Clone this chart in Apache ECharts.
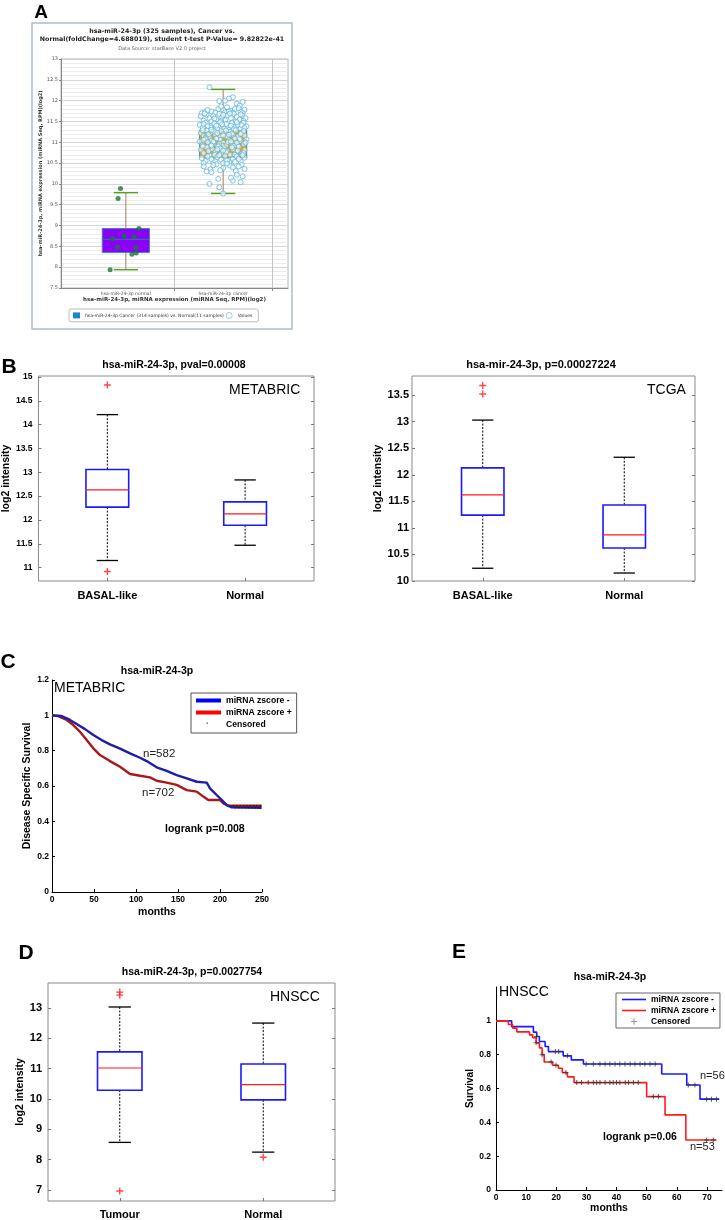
<!DOCTYPE html>
<html><head><meta charset="utf-8">
<script src="https://cdn.jsdelivr.net/npm/echarts@6/dist/echarts.min.js"></script>
<style>html,body{margin:0;padding:0;background:#fff}#c{width:725px;height:1220px}</style>
</head><body><div id="c"></div><script>
// ---------------- DATA ----------------
// Panel A (starBase)
const aCategories = ['hsa-miR-24-3p normal', 'hsa-miR-24-3p cancer'];
const aBoxNormal = [7.94, 8.35, 8.67, 8.93, 9.79];   // min, q1, median, q3, max
const aBoxCancer = [9.77, 10.63, 10.97, 11.29, 12.27];
const aNormalPoints = [[-0.055,9.89],[-0.08,9.65],[0.134,8.93],[-0.017,8.75],[0.086,8.73],[-0.137,8.68],[-0.086,8.48],[0.103,8.48],[0.106,8.34],[0.062,8.31],[-0.162,7.94]];
const aCancerPoints = [
 [-0.14,12.32],[0.10,12.08],[0.06,12.05],[0.02,12.0],[0.2,11.97],[-0.04,11.99],[0.14,11.93],[0.17,11.88],
 [-0.19,11.72],[-0.12,11.74],[-0.05,11.8],[0.0,11.78],[0.04,11.84],[0.08,11.76],[0.12,11.8],[0.18,11.74],[0.22,11.78],[-0.22,11.7],[-0.08,11.71],[0.02,11.72],[0.16,11.82],[-0.16,11.77],[0.1,11.71],[-0.02,11.86],[0.06,11.74],[0.2,11.7],
 [-0.23,11.62],[-0.2,11.52],[-0.17,11.66],[-0.14,11.58],[-0.1,11.63],[-0.07,11.55],[-0.04,11.68],[-0.01,11.6],[0.02,11.53],[0.05,11.65],[0.08,11.58],[0.11,11.68],[0.14,11.61],[0.17,11.55],[0.2,11.64],[0.23,11.58],[-0.19,11.69],[-0.12,11.5],[-0.02,11.51],[0.07,11.69],[0.13,11.5],[0.21,11.51],[-0.09,11.57],[0.0,11.66],[0.18,11.67],
 [-0.24,11.42],[-0.21,11.35],[-0.18,11.47],[-0.15,11.31],[-0.12,11.4],[-0.09,11.45],[-0.06,11.33],[-0.03,11.48],[0.0,11.38],[0.03,11.44],[0.06,11.3],[0.09,11.46],[0.12,11.36],[0.15,11.42],[0.18,11.33],[0.21,11.47],[0.24,11.38],[-0.2,11.44],[-0.13,11.36],[-0.07,11.4],[0.01,11.32],[0.08,11.4],[0.14,11.48],[0.19,11.41],[-0.16,11.39],[-0.01,11.43],[0.11,11.31],[0.22,11.34],
 [-0.23,11.22],[-0.2,11.15],[-0.17,11.28],[-0.14,11.12],[-0.11,11.24],[-0.08,11.18],[-0.05,11.1],[-0.02,11.27],[0.01,11.2],[0.04,11.13],[0.07,11.25],[0.1,11.17],[0.13,11.29],[0.16,11.11],[0.19,11.23],[0.22,11.16],[-0.21,11.29],[-0.15,11.19],[-0.09,11.26],[-0.03,11.14],[0.03,11.28],[0.09,11.21],[0.15,11.14],[0.21,11.27],[-0.18,11.11],[-0.06,11.22],[0.06,11.18],[0.18,11.2],[-0.12,11.3],[0.0,11.16],
 [-0.24,11.02],[-0.21,10.95],[-0.18,11.08],[-0.15,10.92],[-0.12,11.04],[-0.09,10.98],[-0.06,10.91],[-0.03,11.06],[0.0,10.99],[0.03,10.93],[0.06,11.05],[0.09,10.97],[0.12,11.09],[0.15,10.94],[0.18,11.03],[0.21,10.96],[0.24,11.07],[-0.2,11.06],[-0.13,10.95],[-0.07,11.09],[-0.01,10.92],[0.05,11.0],[0.11,10.91],[0.17,11.08],[0.23,10.99],[-0.16,11.0],[-0.04,10.96],[0.08,11.02],[0.14,10.99],[-0.1,11.01],
 [-0.23,10.82],[-0.2,10.74],[-0.17,10.88],[-0.14,10.71],[-0.11,10.84],[-0.08,10.77],[-0.05,10.9],[-0.02,10.73],[0.01,10.86],[0.04,10.79],[0.07,10.7],[0.1,10.83],[0.13,10.75],[0.16,10.89],[0.19,10.72],[0.22,10.81],[-0.21,10.9],[-0.15,10.79],[-0.09,10.7],[-0.03,10.85],[0.03,10.76],[0.09,10.88],[0.15,10.8],[0.21,10.74],[-0.12,10.92],[0.0,10.8],[0.12,10.7],[-0.06,10.83],
 [-0.22,10.62],[-0.18,10.55],[-0.14,10.68],[-0.1,10.51],[-0.06,10.64],[-0.02,10.58],[0.02,10.67],[0.06,10.52],[0.1,10.6],[0.14,10.66],[0.18,10.54],[0.22,10.63],[-0.2,10.5],[-0.12,10.6],[-0.04,10.69],[0.04,10.56],[0.12,10.53],[0.2,10.69],[-0.16,10.66],[0.0,10.5],[0.16,10.6],[-0.08,10.54],
 [-0.2,10.42],[-0.13,10.35],[-0.07,10.47],[0.0,10.38],[0.07,10.44],[0.13,10.31],[0.19,10.46],[-0.17,10.3],[-0.03,10.33],[0.1,10.4],[0.22,10.36],[-0.1,10.45],[0.04,10.49],[0.16,10.42],
 [-0.12,10.28],[0.14,10.22],[0.2,10.18],[-0.05,10.12],[0.1,10.08],[-0.14,10.0],[0.18,10.04],[-0.04,9.92],[0.0,9.77],[0.08,10.15]
];
// Panel B (METABRIC, TCGA)
const bCategories = ['BASAL-like', 'Normal'];
const bMetabricBoxes = [[11.15, 12.27, 12.63, 13.06, 14.21], [11.47, 11.89, 12.13, 12.38, 12.84]];
const bMetabricOutliers = [[1, 14.83], [1, 10.92]];
const bMetabricTicks = [11, 11.5, 12, 12.5, 13, 13.5, 14, 14.5, 15];
const bTcgaBoxes = [[10.24, 11.24, 11.62, 12.13, 13.03], [10.15, 10.62, 10.87, 11.43, 12.33]];
const bTcgaOutliers = [[1, 13.68], [1, 13.52]];
const bTcgaTicks = [10, 10.5, 11, 11.5, 12, 12.5, 13, 13.5];
// Panel C (METABRIC survival)
const cBlue = [[0,1],[11.5,0.996],[21.4,0.974],[29.4,0.951],[39.3,0.922],[49.2,0.889],[59.1,0.86],[69,0.836],[81,0.812],[92.9,0.785],[104.8,0.76],[112.7,0.741],[124.6,0.706],[136.5,0.685],[148.4,0.662],[160.4,0.643],[172.3,0.624],[184.2,0.619],[188.1,0.587],[196,0.549],[202,0.521],[208,0.492],[214,0.479],[249.6,0.477]];
const cRed = [[0,1],[7.5,0.996],[17.5,0.974],[25.4,0.945],[33.3,0.907],[41.3,0.86],[49.2,0.813],[57.1,0.775],[69,0.741],[81,0.709],[92.9,0.668],[104.8,0.658],[116.7,0.649],[124.6,0.63],[136.5,0.619],[148.4,0.606],[160.4,0.577],[172.3,0.568],[180.2,0.54],[186.1,0.521],[200,0.521],[204,0.502],[210,0.488],[249.6,0.488]];
const cCensored = [[218,0.477],[222,0.477],[226,0.477],[230,0.477],[234,0.477],[238,0.477],[242,0.477],[246,0.477],[216,0.488],[220,0.488],[224,0.488],[228,0.488],[232,0.488],[236,0.488],[240,0.488],[244,0.488],[248,0.488]];
const cXTicks = [0, 50, 100, 150, 200, 250];
// Panel D (HNSCC box)
const dCategories = ['Tumour', 'Normal'];
const dBoxes = [[8.57, 10.29, 11.02, 11.55, 13.03], [8.25, 9.97, 10.47, 11.15, 12.5]];
const dOutliers = [[1, 13.52], [1, 13.42], [1, 6.97], [2, 8.08]];
const dTicks = [7, 8, 9, 10, 11, 12, 13];
// Panel E (HNSCC survival)
const eBlue = [[0,1],[5.2,0.966],[12.4,0.933],[13.5,0.907],[14.4,0.878],[16.3,0.848],[17.4,0.818],[22.3,0.793],[25,0.769],[29,0.745],[55,0.686],[63.3,0.621],[67.7,0.537],[74.1,0.537]];
const eRed = [[0,1],[4.1,0.978],[5.5,0.957],[6.9,0.935],[11.1,0.917],[12.2,0.9],[13.3,0.87],[14.4,0.84],[15.3,0.8],[16,0.757],[18.8,0.737],[20.7,0.72],[22,0.694],[23.7,0.669],[25.9,0.635],[50,0.552],[56.1,0.444],[63,0.296],[73.2,0.296]];
const eCensored = [[13.5,0.907],[19.7,0.818],[20.8,0.818],[23.7,0.793],[29.9,0.745],[32.3,0.745],[34.5,0.745],[36.2,0.745],[37.8,0.745],[39.5,0.745],[41.1,0.745],[42.8,0.745],[44.5,0.745],[46.1,0.745],[47.8,0.745],[49.4,0.745],[51.1,0.745],[52.8,0.745],[63.8,0.621],[66,0.621],[69.9,0.537],[71.5,0.537],[73.2,0.537],
 [13.3,0.87],[15.3,0.8],[18.3,0.757],[19.9,0.737],[23.2,0.694],[26.8,0.635],[28.4,0.635],[30.6,0.635],[32.3,0.635],[33.4,0.635],[34.5,0.635],[36.2,0.635],[37.8,0.635],[38.9,0.635],[40,0.635],[41.1,0.635],[42.9,0.635],[44,0.635],[45.6,0.635],[47.2,0.635],[52.2,0.552],[53.9,0.552],[69.9,0.296],[72.1,0.296]];
const eXTicks = [0, 10, 20, 30, 40, 50, 60, 70];
const survTicks = [0, 0.2, 0.4, 0.6, 0.8, 1];

// ---------------- BUILD ----------------
const FONT = '"Liberation Sans", Arial, sans-serif';
const DV = '"DejaVu Sans", sans-serif';
const PLUS = 'path://M4,0h2v4h4v2h-4v4h-2v-4h-4v-2h4z';
const THINLINE = 'path://M0,0h24v1.6h-24z';
const grids = [], xAxes = [], yAxes = [], series = [], graphics = [], legends = [];

function boxRender(st) {
  return function (params, api) {
    const x = api.value(0);
    const lo = api.coord([x, api.value(1)]), q1 = api.coord([x, api.value(2)]);
    const md = api.coord([x, api.value(3)]), q3 = api.coord([x, api.value(4)]);
    const hi = api.coord([x, api.value(5)]);
    const bw = api.size([st.bw, 0])[0], cw = api.size([st.cw, 0])[0];
    const cx = md[0];
    const ws = {stroke: st.whisker, lineWidth: st.wW, lineDash: st.dash || null};
    const cs = {stroke: st.cap, lineWidth: st.cW};
    return {type: 'group', children: [
      {type: 'line', shape: {x1: cx, y1: hi[1], x2: cx, y2: q3[1]}, style: ws},
      {type: 'line', shape: {x1: cx, y1: q1[1], x2: cx, y2: lo[1]}, style: ws},
      {type: 'line', shape: {x1: cx - cw / 2, y1: hi[1], x2: cx + cw / 2, y2: hi[1]}, style: cs},
      {type: 'line', shape: {x1: cx - cw / 2, y1: lo[1], x2: cx + cw / 2, y2: lo[1]}, style: cs},
      {type: 'rect', shape: {x: cx - bw / 2, y: q3[1], width: bw, height: q1[1] - q3[1]}, style: {fill: st.fill, stroke: st.stroke, lineWidth: st.sW}},
      {type: 'line', shape: {x1: cx - bw / 2, y1: md[1], x2: cx + bw / 2, y2: md[1]}, style: {stroke: st.med, lineWidth: st.mW}}
    ]};
  };
}

function txt(text, x, y, size, weight, align, family, color) {
  graphics.push({type: 'text', x: x, y: y, z: 100, silent: true, style: {
    text: text, fontSize: size, fontWeight: weight || 'normal', fontFamily: family || FONT,
    fill: color || '#000', align: align || 'center', textAlign: align || 'center',
    verticalAlign: 'middle', textVerticalAlign: 'middle'}});
}

// ---- Panel A ----
const A_LEG = 'hsa-miR-24-3p Cancer (314 samples) vs. Normal(11 samples)';
{
  const gi = grids.push({left: 61, top: 59, width: 227, height: 229, show: true, borderColor: '#b4b4b4', borderWidth: 1, backgroundColor: '#fff'}) - 1;
  const xi = xAxes.push({type: 'value', gridIndex: gi, min: 1 / 3, max: 8 / 3,
    name: 'hsa-miR-24-3p, miRNA expression (miRNA Seq, RPM)(log2)', nameLocation: 'middle', nameGap: 9,
    nameTextStyle: {fontFamily: DV, fontWeight: 'bold', fontSize: 5.5, color: '#333'},
    axisLine: {show: true, lineStyle: {color: '#888'}}, splitLine: {show: false},
    axisTick: {show: true, length: 3, customValues: [1.5, 2.5], lineStyle: {color: '#888'}},
    axisLabel: {customValues: [1, 2], formatter: v => aCategories[Math.round(v) - 1], fontFamily: DV, fontSize: 4.5, color: '#555', margin: 3}}) - 1;
  const yi = yAxes.push({type: 'value', gridIndex: gi, min: 7.5, max: 13, interval: 0.5,
    name: 'hsa-miR-24-3p, miRNA expression (miRNA Seq, RPM)(log2)', nameLocation: 'middle', nameGap: 16,
    nameTextStyle: {fontFamily: DV, fontWeight: 'bold', fontSize: 5, color: '#333'},
    axisLine: {show: true, lineStyle: {color: '#888'}},
    axisTick: {show: true, length: 2, lineStyle: {color: '#888'}},
    axisLabel: {fontFamily: DV, fontSize: 5, color: '#555', margin: 3},
    splitLine: {show: true, lineStyle: {color: '#cdcdcd', width: 0.8}},
    minorTick: {show: false, splitNumber: 5},
    minorSplitLine: {show: true, lineStyle: {color: '#e8e8e8', width: 0.8}}}) - 1;
  series.push({type: 'custom', name: A_LEG, xAxisIndex: xi, yAxisIndex: yi, silent: true, z: 2,
    data: [[1].concat(aBoxNormal)], encode: {x: 0, y: [1, 2, 3, 4, 5]},
    renderItem: boxRender({bw: 0.485, cw: 0.25, whisker: '#b07a5a', wW: 1, cap: '#5a9e2a', cW: 1.5, fill: '#8b00f7', stroke: '#3d86b8', sW: 1, med: '#2f6f9f', mW: 1.2}),
    markLine: {silent: true, symbol: 'none', label: {show: false}, lineStyle: {color: '#c4c4c4', type: 'solid', width: 1}, data: [{xAxis: 1.5}, {xAxis: 2.5}]}});
  series.push({type: 'custom', name: A_LEG, xAxisIndex: xi, yAxisIndex: yi, silent: true, z: 2,
    data: [[2].concat(aBoxCancer)], encode: {x: 0, y: [1, 2, 3, 4, 5]},
    renderItem: boxRender({bw: 0.485, cw: 0.25, whisker: '#b07a5a', wW: 1, cap: '#5a9e2a', cW: 1.5, fill: '#f7a30c', stroke: '#4d8fa3', sW: 1, med: '#456b74', mW: 1.2})});
  series.push({type: 'scatter', name: 'Values', xAxisIndex: xi, yAxisIndex: yi, silent: true, z: 3,
    data: aNormalPoints.map(p => [1 + p[0], p[1]]), symbol: 'circle', symbolSize: 5, itemStyle: {color: '#17783c'}});
  series.push({type: 'scatter', name: 'Values', xAxisIndex: xi, yAxisIndex: yi, silent: true, z: 3,
    data: aCancerPoints.map(p => [2 + p[0], p[1]]), symbol: 'circle', symbolSize: 5,
    itemStyle: {color: 'rgba(255,255,255,0.8)', borderColor: '#5fb5d9', borderWidth: 1}});
  legends.push({left: 69, top: 309, orient: 'horizontal', itemGap: 2, itemWidth: 7, itemHeight: 6,
    padding: [3, 6, 3, 4], borderColor: '#bbb', borderWidth: 1, borderRadius: 2, selectedMode: false,
    textStyle: {fontFamily: DV, fontSize: 4.5, color: '#333'},
    data: [{name: A_LEG, icon: 'rect', itemStyle: {color: '#1b87cc'}},
           {name: 'Values', icon: 'circle', itemStyle: {color: '#fff', borderColor: '#5ab4d8', borderWidth: 0.8}}]});
  graphics.push({type: 'rect', z: 0, silent: true, shape: {x: 32, y: 23, width: 260, height: 306}, style: {fill: 'none', stroke: '#a9bcd3', lineWidth: 1.5}});
  txt('A', 41, 13, 19, 'bold');
  txt('hsa-miR-24-3p (325 samples), Cancer vs.', 162, 31, 6.3, 'bold', 'center', DV, '#222');
  txt('Normal(foldChange=4.688019), student t-test P-Value= 9.82822e-41', 162, 39, 6.3, 'bold', 'center', DV, '#222');
  txt('Data Source: starBase V2.0 project', 162, 49, 5, 'normal', 'center', DV, '#666');
}

// ---- MATLAB box panels ----
function mPanel(p) {
  const gi = grids.push({left: p.left, top: p.top, width: p.width, height: p.height, show: true, borderColor: '#8a8a8a', borderWidth: 1, backgroundColor: '#fff'}) - 1;
  const xi = xAxes.push({type: 'value', gridIndex: gi, min: 0.5, max: 2.5,
    axisLine: {show: false}, splitLine: {show: false},
    axisTick: {show: true, inside: true, length: 3, customValues: [1, 2], lineStyle: {color: '#777'}},
    axisLabel: {customValues: [1, 2], formatter: v => p.cats[Math.round(v) - 1], margin: p.xm, fontFamily: FONT, fontWeight: 'bold', fontSize: p.xs, color: '#000'}}) - 1;
  const yi = yAxes.push({type: 'value', gridIndex: gi, min: p.ymin, max: p.ymax,
    name: 'log2 intensity', nameLocation: 'middle', nameGap: p.ng,
    nameTextStyle: {fontFamily: FONT, fontWeight: 'bold', fontSize: p.ns, color: '#000'},
    axisLine: {show: false}, splitLine: {show: false},
    axisTick: {show: true, inside: true, length: 3, customValues: p.ticks, lineStyle: {color: '#777'}},
    axisLabel: {customValues: p.ticks, margin: p.ym, fontFamily: FONT, fontWeight: 'bold', fontSize: p.ys, color: '#000'}}) - 1;
  yAxes.push({type: 'value', gridIndex: gi, position: 'right', min: p.ymin, max: p.ymax,
    axisLine: {show: false}, splitLine: {show: false}, axisLabel: {show: false},
    axisTick: {show: true, inside: true, length: 3, customValues: p.ticks, lineStyle: {color: '#777'}}});
  series.push({type: 'custom', name: p.id + ' boxes', xAxisIndex: xi, yAxisIndex: yi, silent: true, z: 2,
    data: p.boxes.map((b, i) => [i + 1].concat(b)), encode: {x: 0, y: [1, 2, 3, 4, 5]},
    renderItem: boxRender({bw: p.bw, cw: p.bw / 2, whisker: '#000', wW: 1, dash: [2, 1.5], cap: '#000', cW: 1.3, fill: 'none', stroke: '#1a1aff', sW: 1.6, med: '#ff1a1a', mW: 1.2})});
  series.push({type: 'scatter', name: p.id + ' outliers', xAxisIndex: xi, yAxisIndex: yi, silent: true, z: 3,
    data: p.outliers, symbol: PLUS, symbolSize: 7, itemStyle: {color: '#ff1a1a'}});
}
mPanel({id: 'Bm', left: 35, top: 376, width: 279, height: 205, ymin: 10.72, ymax: 15.02, ticks: bMetabricTicks,
  cats: bCategories, boxes: bMetabricBoxes, outliers: bMetabricOutliers, bw: 0.31, xs: 11, xm: 9, ys: 8.5, ym: 6, ns: 10.5, ng: 21});
mPanel({id: 'Bt', left: 412, top: 376, width: 283, height: 205, ymin: 10, ymax: 13.86, ticks: bTcgaTicks,
  cats: bCategories, boxes: bTcgaBoxes, outliers: bTcgaOutliers, bw: 0.3, xs: 11, xm: 9, ys: 11, ym: 3, ns: 10.5, ng: 27});
mPanel({id: 'D', left: 48, top: 983, width: 287, height: 218, ymin: 6.64, ymax: 13.82, ticks: dTicks,
  cats: dCategories, boxes: dBoxes, outliers: dOutliers, bw: 0.31, xs: 11, xm: 8, ys: 11, ym: 6, ns: 10.5, ng: 19});
txt('B', 9, 367, 21, 'bold');
txt('hsa-miR-24-3p, pval=0.00008', 174, 365, 10.5, 'bold');
txt('METABRIC', 229, 390, 14, 'normal', 'left');
txt('hsa-mir-24-3p, p=0.00027224', 541, 365, 11, 'bold');
txt('TCGA', 647, 390, 14, 'normal', 'left');
txt('D', 26, 953, 21, 'bold');
txt('hsa-miR-24-3p, p=0.0027754', 192, 972, 10.5, 'bold');
txt('HNSCC', 270, 997, 14, 'normal', 'left');

// ---- Survival panels ----
function survAxes(p) {
  const gi = grids.push({left: p.left, top: p.top, width: p.width, height: p.height}) - 1;
  const xi = xAxes.push({type: 'value', gridIndex: gi, min: 0, max: p.xmax,
    name: 'months', nameLocation: 'middle', nameGap: p.xng,
    nameTextStyle: {fontFamily: FONT, fontWeight: 'bold', fontSize: 10.5, color: '#000'},
    axisLine: {show: true, lineStyle: {color: '#000', width: 1}}, splitLine: {show: false},
    axisTick: {show: true, inside: true, length: 3, customValues: p.xticks, lineStyle: {color: '#000'}},
    axisLabel: {customValues: p.xticks, margin: 3, fontFamily: FONT, fontWeight: 'bold', fontSize: 8.5, color: '#000'}}) - 1;
  const yi = yAxes.push({type: 'value', gridIndex: gi, min: 0, max: 1.2,
    name: p.yname, nameLocation: 'middle', nameGap: p.yng,
    nameTextStyle: {fontFamily: FONT, fontWeight: 'bold', fontSize: p.yns, color: '#000'},
    axisLine: {show: true, lineStyle: {color: '#000', width: 1}}, splitLine: {show: false},
    axisTick: {show: true, inside: true, length: 3, customValues: p.yticks, lineStyle: {color: '#000'}},
    axisLabel: {customValues: p.yticks, margin: p.ym, fontFamily: FONT, fontWeight: 'bold', fontSize: 8.5, color: '#000'}}) - 1;
  return [xi, yi];
}
const legFmt = n => n.split('|')[1];
{
  const [xi, yi] = survAxes({left: 52, top: 680, width: 210, height: 212, xmax: 250, xticks: cXTicks, xng: 15,
    yname: 'Disease Specific Survival', yng: 19, yns: 10.5, ym: 3, yticks: [0, 0.2, 0.4, 0.6, 0.8, 1, 1.2]});
  series.push({type: 'line', name: 'C|miRNA zscore +', xAxisIndex: xi, yAxisIndex: yi, data: cRed, symbol: 'none', silent: true,
    lineStyle: {color: '#a8181c', width: 2.4}, itemStyle: {color: '#ff0000'}, z: 2});
  series.push({type: 'line', name: 'C|miRNA zscore -', xAxisIndex: xi, yAxisIndex: yi, data: cBlue, symbol: 'none', silent: true,
    lineStyle: {color: '#1e1ea8', width: 2.4}, itemStyle: {color: '#0000ff'}, z: 3});
  series.push({type: 'scatter', name: 'C|Censored', xAxisIndex: xi, yAxisIndex: yi, data: cCensored, symbol: 'circle', symbolSize: 1.6, silent: true,
    itemStyle: {color: '#111'}, z: 4});
  legends.push({left: 191, top: 693, orient: 'vertical', itemGap: 3, itemWidth: 25, itemHeight: 4,
    padding: [3, 5, 4, 5], borderColor: '#555', borderWidth: 1, backgroundColor: '#fff', selectedMode: false,
    formatter: legFmt, textStyle: {fontFamily: FONT, fontWeight: 'bold', fontSize: 8.6, color: '#000'},
    data: [{name: 'C|miRNA zscore -', icon: 'rect', itemStyle: {color: '#0000ff'}},
           {name: 'C|miRNA zscore +', icon: 'rect', itemStyle: {color: '#ff0000'}},
           {name: 'C|Censored', icon: 'path://M0,0h10v10h-10z M30,30h0.1v0.1h-0.1z', itemStyle: {color: '#000'}}]});
  txt('C', 8, 662, 21, 'bold');
  txt('hsa-miR-24-3p', 157, 671, 10.5, 'bold');
  txt('METABRIC', 54, 688, 14, 'normal', 'left');
  txt('n=582', 143, 754, 11.5, 'normal', 'left', FONT, '#222');
  txt('n=702', 142, 793, 11.5, 'normal', 'left', FONT, '#222');
  txt('logrank p=0.008', 165, 829, 10.5, 'bold', 'left');
}
{
  const [xi, yi] = survAxes({left: 496, top: 987, width: 226, height: 203, xmax: 75, xticks: eXTicks, xng: 12,
    yname: 'Survival', yng: 18, yns: 10, ym: 5, yticks: survTicks});
  series.push({type: 'line', name: 'E|miRNA zscore -', xAxisIndex: xi, yAxisIndex: yi, data: eBlue, step: 'end', symbol: 'none', silent: true,
    lineStyle: {color: '#1a1aff', width: 1.6}, itemStyle: {color: '#1a1aff'}, z: 2});
  series.push({type: 'line', name: 'E|miRNA zscore +', xAxisIndex: xi, yAxisIndex: yi, data: eRed, step: 'end', symbol: 'none', silent: true,
    lineStyle: {color: '#ff1a1a', width: 1.6}, itemStyle: {color: '#ff1a1a'}, z: 3});
  series.push({type: 'scatter', name: 'E|Censored', xAxisIndex: xi, yAxisIndex: yi, data: eCensored, symbol: PLUS, symbolSize: 5, silent: true,
    itemStyle: {color: '#333'}, z: 4});
  legends.push({left: 616, top: 993, orient: 'vertical', itemGap: 2, itemWidth: 24, itemHeight: 6,
    padding: [2, 4, 2, 6], borderColor: '#666', borderWidth: 1, backgroundColor: '#fff', selectedMode: false,
    formatter: legFmt, textStyle: {fontFamily: FONT, fontWeight: 'bold', fontSize: 8.5, color: '#000'},
    data: [{name: 'E|miRNA zscore -', icon: THINLINE, itemStyle: {color: '#1a1aff'}},
           {name: 'E|miRNA zscore +', icon: THINLINE, itemStyle: {color: '#ff1a1a'}},
           {name: 'E|Censored', icon: PLUS, itemStyle: {color: '#888'}}]});
  txt('E', 459, 952, 21, 'bold');
  txt('hsa-miR-24-3p', 610, 977, 10.5, 'bold');
  txt('HNSCC', 499, 992, 14, 'normal', 'left');
  txt('n=56', 700, 1076, 11, 'normal', 'left', FONT, '#222');
  txt('n=53', 690, 1147, 11, 'normal', 'left', FONT, '#222');
  txt('logrank p=0.06', 603, 1137, 10.5, 'bold', 'left');
}

const chart = echarts.init(document.getElementById('c'), null, {renderer: 'canvas', width: 725, height: 1220});
chart.setOption({
  animation: false,
  backgroundColor: '#fff',
  grid: grids, xAxis: xAxes, yAxis: yAxes, series: series, legend: legends,
  graphic: {elements: graphics}
});
</script></body></html>
